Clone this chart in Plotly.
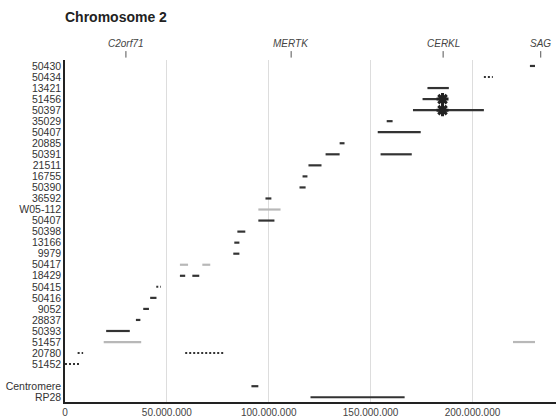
import plotly.graph_objects as go

# ---- data ----
row_labels = ["50430", "50434", "13421", "51456", "50397", "35029", "50407", "20885",
              "50391", "21511", "16755", "50390", "36592", "W05-112", "50407", "50398",
              "13166", "9979", "50417", "18429", "50415", "50416", "9052", "28837",
              "50393", "51457", "20780", "51452", "", "Centromere", "RP28"]

# segments: row index, start (Mb), end (Mb), style
seg_row   = [0, 1, 2, 3, 4, 5, 6, 7, 8, 8, 9, 10, 11, 12, 13, 14, 15, 16, 17,
             18, 18, 19, 19, 20, 21, 22, 23, 24, 25, 25, 26, 26, 27, 29, 30]
seg_start = [228.2, 205.6, 177.9, 175.5, 170.8, 157.9, 153.5, 134.8, 127.9, 154.9,
             119.5, 116.6, 115.1, 98.4, 94.9, 94.9, 84.6, 83.1, 82.6,
             56.4, 67.4, 56.4, 62.5, 44.8, 41.8, 38.4, 34.8, 20.2, 19.0, 219.9,
             6.2, 59.0, 0.0, 91.5, 120.5]
seg_end   = [230.7, 210.0, 188.4, 184.8, 205.6, 160.8, 174.6, 137.2, 134.8, 170.2,
             125.9, 119.0, 118.1, 101.3, 105.8, 102.8, 88.5, 85.6, 85.6,
             60.4, 71.3, 59.0, 65.9, 47.1, 44.9, 41.2, 37.0, 31.8, 37.4, 230.7,
             8.9, 78.6, 7.7, 94.9, 166.7]
seg_style = ["dark", "dot", "dark", "dark", "dark", "dark", "dark", "dark", "dark", "dark",
             "dark", "dark", "dark", "dark", "gray", "dark", "dark", "dark", "dark",
             "gray", "gray", "dark", "dark", "dot", "dark", "dark", "dark", "dark", "gray", "gray",
             "dot", "dot", "dot", "dark", "dark"]

star_rows = [3, 4]
star_pos = [185.3, 185.3]

gene_names = ["C2orf71", "MERTK", "CERKL", "SAG"]
gene_pos = [29.9, 111.0, 185.6, 233.5]

x_tickvals = [0, 50, 100, 150, 200]
x_ticktext = ["0", "50.000.000", "100.000.000", "150.000.000", "200.000.000"]

# ---- figure ----
styles = {
    "dark": dict(color="#333333", width=2.2, dash="solid"),
    "gray": dict(color="#b8b8b8", width=2.2, dash="solid"),
    "dot": dict(color="#333333", width=2, dash="2px,2px"),
}

FONT = "Liberation Sans, Arial"

fig = go.Figure()
for st, ln in styles.items():
    xs, ys = [], []
    for r, a, b, s in zip(seg_row, seg_start, seg_end, seg_style):
        if s == st:
            xs += [a, b, None]
            ys += [r, r, None]
    fig.add_trace(go.Scatter(x=xs, y=ys, mode="lines", line=ln,
                             hoverinfo="skip", showlegend=False))

fig.add_trace(go.Scatter(x=star_pos, y=star_rows, mode="markers",
                         marker=dict(symbol="asterisk-open", size=10, color="#222222",
                                     line=dict(color="#222222", width=3)),
                         showlegend=False, hoverinfo="skip"))

for name, pos in zip(gene_names, gene_pos):
    fig.add_annotation(x=pos, y=1.047, xref="x", yref="paper", text="<i>" + name + "</i>",
                       showarrow=False, font=dict(family=FONT, size=10, color="#444444"),
                       xanchor="center", yanchor="middle")
    fig.add_shape(type="line", x0=pos, x1=pos, y0=1.007, y1=1.026, xref="x", yref="paper",
                  line=dict(color="#555555", width=1))

fig.update_layout(
    width=556, height=419,
    margin=dict(l=65, r=0, t=60, b=17),
    plot_bgcolor="white", paper_bgcolor="white",
    font=dict(family=FONT, size=10, color="#333333"),
    title=dict(text="<b>Chromosome 2</b>", x=65 / 556, xanchor="left",
               y=1 - 17 / 419, yanchor="middle",
               font=dict(family=FONT, size=14, color="#222222")),
    xaxis=dict(range=[0, 241], tickvals=x_tickvals, ticktext=x_ticktext,
               showgrid=True, gridcolor="#dddddd", gridwidth=1,
               showline=True, linecolor="#222222", linewidth=1.5, automargin=False,
               zeroline=False, ticks="", tickfont=dict(size=10, color="#444444")),
    yaxis=dict(range=[30.43, -0.54], tickvals=list(range(len(row_labels))),
               ticktext=row_labels, showgrid=False, zeroline=False, automargin=False,
               showline=True, linecolor="#222222", linewidth=1.5, ticks="",
               tickfont=dict(size=10.5, color="#333333")),
)

fig.write_html("out.html", config={"displayModeBar": False},
               post_script="document.body.style.margin='0px';")
